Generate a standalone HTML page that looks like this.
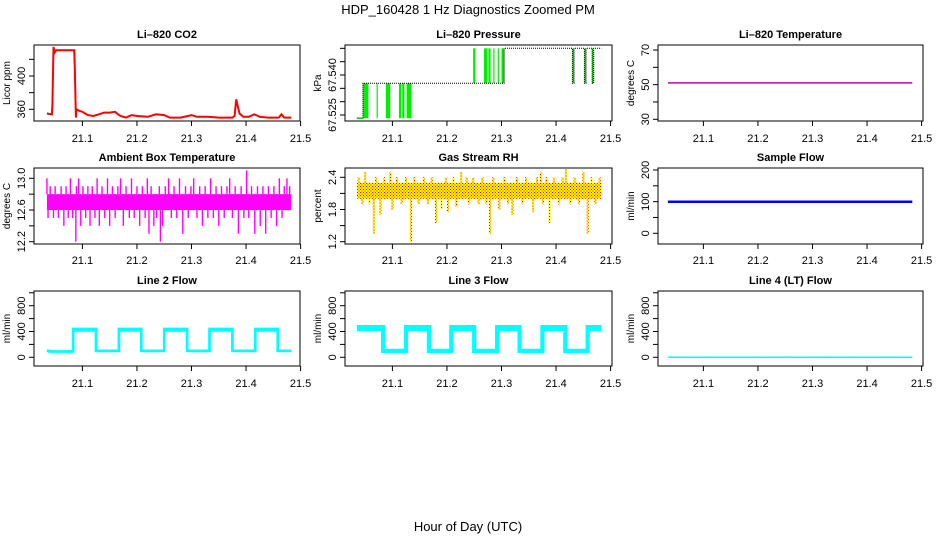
<!DOCTYPE html>
<html><head><meta charset="utf-8"><style>
body{margin:0;background:#fff}
svg{display:block;font-family:"Liberation Sans",Arial,sans-serif}
</style></head><body>
<svg id="c" width="936" height="540" viewBox="0 0 936 540">
<defs>
<pattern id="rhpat" width="3" height="3" patternUnits="userSpaceOnUse"><rect width="3" height="3" fill="#ffff00"/><rect width="1" height="1" fill="#ff0000"/><rect x="1.5" y="1.5" width="1" height="1" fill="#ff0000"/></pattern>
</defs>
<text x="468" y="14" text-anchor="middle" font-size="13">HDP_160428  1 Hz Diagnostics Zoomed PM</text>
<text x="468" y="531" text-anchor="middle" font-size="13">Hour of Day (UTC)</text>
</svg>
<script>
// ---- data ----
const xTicks = [21.1, 21.2, 21.3, 21.4, 21.5];
const co2Times = [21.035,21.044,21.045,21.047,21.049,21.052,21.06,21.07,21.085,21.086,21.088,21.089,21.095,21.1,21.11,21.12,21.13,21.14,21.15,21.16,21.165,21.17,21.18,21.19,21.2,21.22,21.235,21.25,21.26,21.28,21.3,21.31,21.33,21.35,21.375,21.379,21.382,21.384,21.388,21.395,21.405,21.415,21.425,21.44,21.46,21.465,21.47,21.483];
const co2Values = [355,354,365,435,428,431,431,431,431,410,350,360,358,357,353,352,354,356,356,357,354,352,350,353,352,351,354,353,350,350,353,351,351,350,350,352,372,366,355,351,351,354,351,350,350,354,350,350];
const presTimes = [21.035,21.046,21.135,21.248,21.305,21.43,21.433,21.452,21.455,21.466,21.469,21.483];
const presLevels = [67.5238,67.5369,67.5369,67.5369,67.550,67.5369,67.550,67.5369,67.550,67.5369,67.550,67.550];
const presBandStart = [21.046,21.071,21.088,21.112,21.118,21.126,21.248,21.268,21.276,21.285,21.293,21.300,21.430,21.452,21.466];
const presBandEnd =   [21.056,21.073,21.096,21.116,21.122,21.135,21.252,21.274,21.280,21.286,21.295,21.305,21.433,21.455,21.469];
const presBandLow =   [67.5238,67.5238,67.5238,67.5238,67.5238,67.5238,67.5369,67.5369,67.5369,67.5369,67.5369,67.5369,67.5369,67.5369,67.5369];
const presBandHigh =  [67.5369,67.5369,67.5369,67.5369,67.5369,67.5369,67.550,67.550,67.550,67.550,67.550,67.550,67.550,67.550,67.550];
const tempTimes = [21.035,21.483];
const tempValues = [51,51];
const ambBand = [12.6,12.8];
const ambSpikeTimes = [21.035,21.037,21.041,21.047,21.05,21.056,21.061,21.066,21.07,21.074,21.078,21.082,21.088,21.089,21.093,21.097,21.101,21.106,21.11,21.114,21.118,21.123,21.127,21.131,21.136,21.141,21.146,21.15,21.155,21.16,21.165,21.17,21.175,21.18,21.186,21.19,21.195,21.2,21.205,21.21,21.215,21.219,21.222,21.226,21.231,21.236,21.241,21.243,21.247,21.252,21.258,21.263,21.268,21.273,21.278,21.284,21.289,21.294,21.299,21.304,21.31,21.315,21.32,21.325,21.33,21.335,21.34,21.345,21.35,21.355,21.36,21.365,21.37,21.375,21.38,21.386,21.391,21.396,21.401,21.405,21.41,21.416,21.421,21.426,21.431,21.436,21.441,21.446,21.451,21.456,21.461,21.466,21.47,21.475,21.48];
const ambSpikeValues = [13.0,12.5,12.9,12.5,12.9,12.5,12.9,12.4,12.9,12.5,13.0,12.5,12.2,12.9,13.0,12.4,12.9,12.5,12.9,12.4,12.9,12.5,13.0,12.4,12.9,12.5,13.0,12.4,12.9,12.5,12.9,13.0,12.4,12.9,12.5,13.0,12.5,12.9,12.4,12.9,12.5,13.0,12.3,12.9,12.4,12.5,12.9,12.2,12.4,12.9,13.0,12.5,12.9,12.5,13.0,12.3,12.9,12.5,12.9,13.0,12.5,12.9,12.4,12.9,12.5,13.0,12.5,12.9,12.4,12.9,12.5,12.9,13.0,12.5,12.9,12.3,12.9,12.5,13.1,12.5,12.9,12.3,12.9,12.4,12.9,12.3,12.9,12.5,12.9,12.4,13.0,12.5,12.9,13.0,12.9];
const rhBand = [2.0,2.3];
const rhSpikeTimes = [21.038,21.045,21.05,21.058,21.066,21.07,21.078,21.085,21.096,21.1,21.108,21.117,21.125,21.134,21.14,21.148,21.158,21.165,21.172,21.18,21.19,21.198,21.202,21.212,21.217,21.226,21.236,21.24,21.248,21.258,21.265,21.272,21.279,21.285,21.296,21.305,21.312,21.32,21.328,21.338,21.345,21.358,21.365,21.372,21.376,21.382,21.388,21.396,21.405,21.412,21.418,21.426,21.434,21.442,21.45,21.458,21.465,21.472,21.48];
const rhSpikeValues = [2.4,1.9,2.5,1.9,1.35,2.4,1.7,2.4,2.5,1.8,2.4,1.9,2.4,1.2,2.4,1.9,2.4,1.9,2.4,1.55,1.8,2.4,1.75,2.4,1.85,2.5,2.4,1.9,2.4,1.9,2.4,1.9,1.35,2.4,1.8,2.4,1.9,1.7,2.4,1.9,2.4,1.75,2.4,2.5,1.9,2.4,1.55,2.4,1.9,2.4,2.55,1.9,2.4,1.9,2.5,1.35,2.4,1.9,2.4];
const sampleTimes = [21.035,21.483];
const sampleValues = [100,100];
const line2Times = [21.035,21.04,21.04,21.083,21.083,21.125,21.125,21.167,21.167,21.208,21.208,21.25,21.25,21.292,21.292,21.333,21.333,21.375,21.375,21.417,21.417,21.458,21.458,21.483];
const line2Values = [100,100,90,90,440,440,100,100,440,440,100,100,440,440,100,100,440,440,100,100,440,440,100,100];
const line3Times = [21.035,21.083,21.083,21.125,21.125,21.167,21.167,21.208,21.208,21.25,21.25,21.292,21.292,21.333,21.333,21.375,21.375,21.417,21.417,21.458,21.458,21.483];
const line3Values = [470,470,100,100,470,470,100,100,470,470,100,100,470,470,100,100,470,470,100,100,470,470];
const line4Times = [21.035,21.483];
const line4Values = [0,0];
const line4BlipTimes = [21.055,21.068,21.11,21.193,21.22,21.247,21.252,21.258,21.297,21.315,21.322,21.33,21.372,21.432,21.447];

// ---- layout ----
const NS = "http://www.w3.org/2000/svg";
const svg = document.getElementById('c');
const cols = [{l:34,r:300,x0:82.4},{l:345,r:612,x0:392.4},{l:658,r:923,x0:703.4}];
const rows = [{t:45,b:121,lab:142},{t:168,b:244,lab:264},{t:291,b:366,lab:387}];
const pxPerUnit = 545.5;
function mk(tag, attrs, parent){const e=document.createElementNS(NS,tag);for(const k in attrs)e.setAttribute(k,attrs[k]);(parent||svg).appendChild(e);return e;}
function xs(c){return t=>cols[c].x0+(t-21.1)*pxPerUnit;}
function ys(v1,p1,v2,p2){return v=>p1+(v-v1)*(p2-p1)/(v2-v1);}

function panel(name,c,r,title,ylab,y,ticks,labels){
  const g=mk('g',{});
  
  
  const C=cols[c],R=rows[r];
  const tt=mk('text',{x:(C.l+C.r)/2,y:R.t-7,'text-anchor':'middle','font-size':'11','font-weight':'bold'},g);
  tt.textContent=title;
  
  
  const box=mk('rect',{x:C.l,y:R.t,width:C.r-C.l,height:R.b-R.t,fill:'none',stroke:'#000','stroke-width':1},g);
  
  
  const x=xs(c);
  xTicks.forEach(t=>{
    const px=x(t);
    mk('line',{x1:px,x2:px,y1:R.b,y2:R.b+5,stroke:'#000'},g);
    const tx=mk('text',{x:px,y:R.lab,'text-anchor':'middle','font-size':'11'},g);
    tx.textContent=t.toFixed(1);
    
    
  });
  ticks.forEach(v=>{const py=y(v);mk('line',{x1:C.l-5,x2:C.l,y1:py,y2:py,stroke:'#000'},g);});
  labels.forEach(s=>{
    const py=y(parseFloat(s));
    const tx=mk('text',{x:0,y:0,'text-anchor':'middle','font-size':'11',transform:`translate(${C.l-9},${py}) rotate(-90)`},g);
    tx.textContent=s;
    
    
  });
  const yl=mk('text',{x:0,y:0,'text-anchor':'middle','font-size':'10',transform:`translate(${C.l-24},${(R.t+R.b)/2}) rotate(-90)`},g);
  yl.textContent=ylab;
  
  
  const clip=mk('clipPath',{id:'clip'+name},g);
  mk('rect',{x:C.l,y:R.t,width:C.r-C.l,height:R.b-R.t},clip);
  const d=mk('g',{'clip-path':`url(#clip${name})`},g);
  return {g:d,x,y};
}
function line(p,ts,vs,color,w,name,extra){
  const pts=ts.map((t,i)=>p.x(t).toFixed(1)+','+p.y(vs[i]).toFixed(1)).join(' ');
  const e=mk('polyline',Object.assign({points:pts,fill:'none',stroke:color,'stroke-width':w},extra||{}),p.g);
  
  
  return e;
}

// CO2
let p=panel('co2',0,0,'Li\u2013820 CO2','Licor ppm',ys(360,109.3,400,76),[360,380,400,420],['360','400']);
line(p,co2Times,co2Values,'#ff0000',2,'co2-series');

// Pressure
p=panel('pressure',1,0,'Li\u2013820 Pressure','kPa',ys(67.525,115,67.540,75),[67.525,67.530,67.535,67.540,67.545,67.550],['67.525','67.540']);
presBandStart.forEach((s,i)=>{
  const x1=p.x(s),x2=p.x(presBandEnd[i]),y1=p.y(presBandHigh[i]),y2=p.y(presBandLow[i]);
  const b=mk('rect',{x:x1,y:y1,width:Math.max(1.2,x2-x1),height:y2-y1,fill:'#00ee00'},p.g);
  
  
});
{const st=[],sv=[];presTimes.forEach((t,i)=>{if(i>0){st.push(t);sv.push(presLevels[i-1]);}st.push(t);sv.push(presLevels[i]);});
line(p,st,sv,'#000',1,'pressure-series',{'stroke-dasharray':'1,1'});}
line(p,[21.035,21.046],[67.5238,67.5238],'#00cc00',1.5,'pressure-low-segment');

// Temperature
p=panel('li820-temp',2,0,'Li\u2013820 Temperature','degrees C',ys(30,119.3,70,50),[30,40,50,60,70],['30','50','70']);
line(p,tempTimes,tempValues,'#c000c0',1.5,'li820-temp-series');

// Ambient
p=panel('ambient',0,1,'Ambient Box Temperature','degrees C',ys(12.2,241.7,13.0,178.3),[12.2,12.4,12.6,12.8,13.0],['12.2','12.6','13.0']);
{const r=mk('rect',{x:p.x(21.035),y:p.y(ambBand[1]),width:p.x(21.483)-p.x(21.035),height:p.y(ambBand[0])-p.y(ambBand[1]),fill:'#ff00ff'},p.g);
}
ambSpikeTimes.forEach((t,i)=>{
  const v=ambSpikeValues[i],base=v>12.7?ambBand[1]:ambBand[0];
  const e=mk('rect',{x:p.x(t)-0.7,y:Math.min(p.y(v),p.y(base)),width:1.4,height:Math.abs(p.y(v)-p.y(base)),fill:'#ff00ff'},p.g);
  
  
});

// RH
p=panel('rh',1,1,'Gas Stream RH','percent',ys(1.2,241.7,2.4,177.3),[1.2,1.5,1.8,2.1,2.4],['1.2','1.8','2.4']);
{const r=mk('rect',{x:p.x(21.035),y:p.y(rhBand[1]),width:p.x(21.483)-p.x(21.035),height:p.y(rhBand[0])-p.y(rhBand[1]),fill:'url(#rhpat)'},p.g);
}
rhSpikeTimes.forEach((t,i)=>{
  const v=rhSpikeValues[i],base=v>2.15?rhBand[1]:rhBand[0];
  const e=mk('rect',{x:p.x(t)-1,y:Math.min(p.y(v),p.y(base)),width:2,height:Math.abs(p.y(v)-p.y(base)),fill:'url(#rhpat)'},p.g);
  
  
});

// Sample flow
p=panel('sample-flow',2,1,'Sample Flow','ml/min',ys(0,233.3,200,170),[0,50,100,150,200],['0','100','200']);
line(p,sampleTimes,sampleValues,'#0000ff',2.5,'sample-flow-series');

// Line 2
const fy=ys(0,357.3,800,305.7);
p=panel('line2-flow',0,2,'Line 2 Flow','ml/min',fy,[0,200,400,600,800,1000],['0','400','800']);
line(p,line2Times,line2Values,'#00ffff',2.5,'line2-flow-series');
line(p,line2Times,line2Values.map(v=>v>300?v-25:v),'#00ffff',2.5,'line2-flow-band');

// Line 3
p=panel('line3-flow',1,2,'Line 3 Flow','ml/min',fy,[0,200,400,600,800,1000],['0','400','800']);
line(p,line3Times,line3Values,'#00ffff',4,'line3-flow-series');
line(p,line3Times,line3Values.map(v=>v>300?v-35:v),'#00ffff',4,'line3-flow-band');

// Line 4
p=panel('line4-flow',2,2,'Line 4 (LT) Flow','ml/min',fy,[0,200,400,600,800,1000],['0','400','800']);
line(p,line4Times,line4Values,'#00ffff',1.5,'line4-flow-series');
line4BlipTimes.forEach(t=>{
  const e=mk('line',{x1:p.x(t),x2:p.x(t),y1:p.y(0),y2:p.y(15),stroke:'#00ffff','stroke-width':1},p.g);
  
  
});
</script>
</body></html>
